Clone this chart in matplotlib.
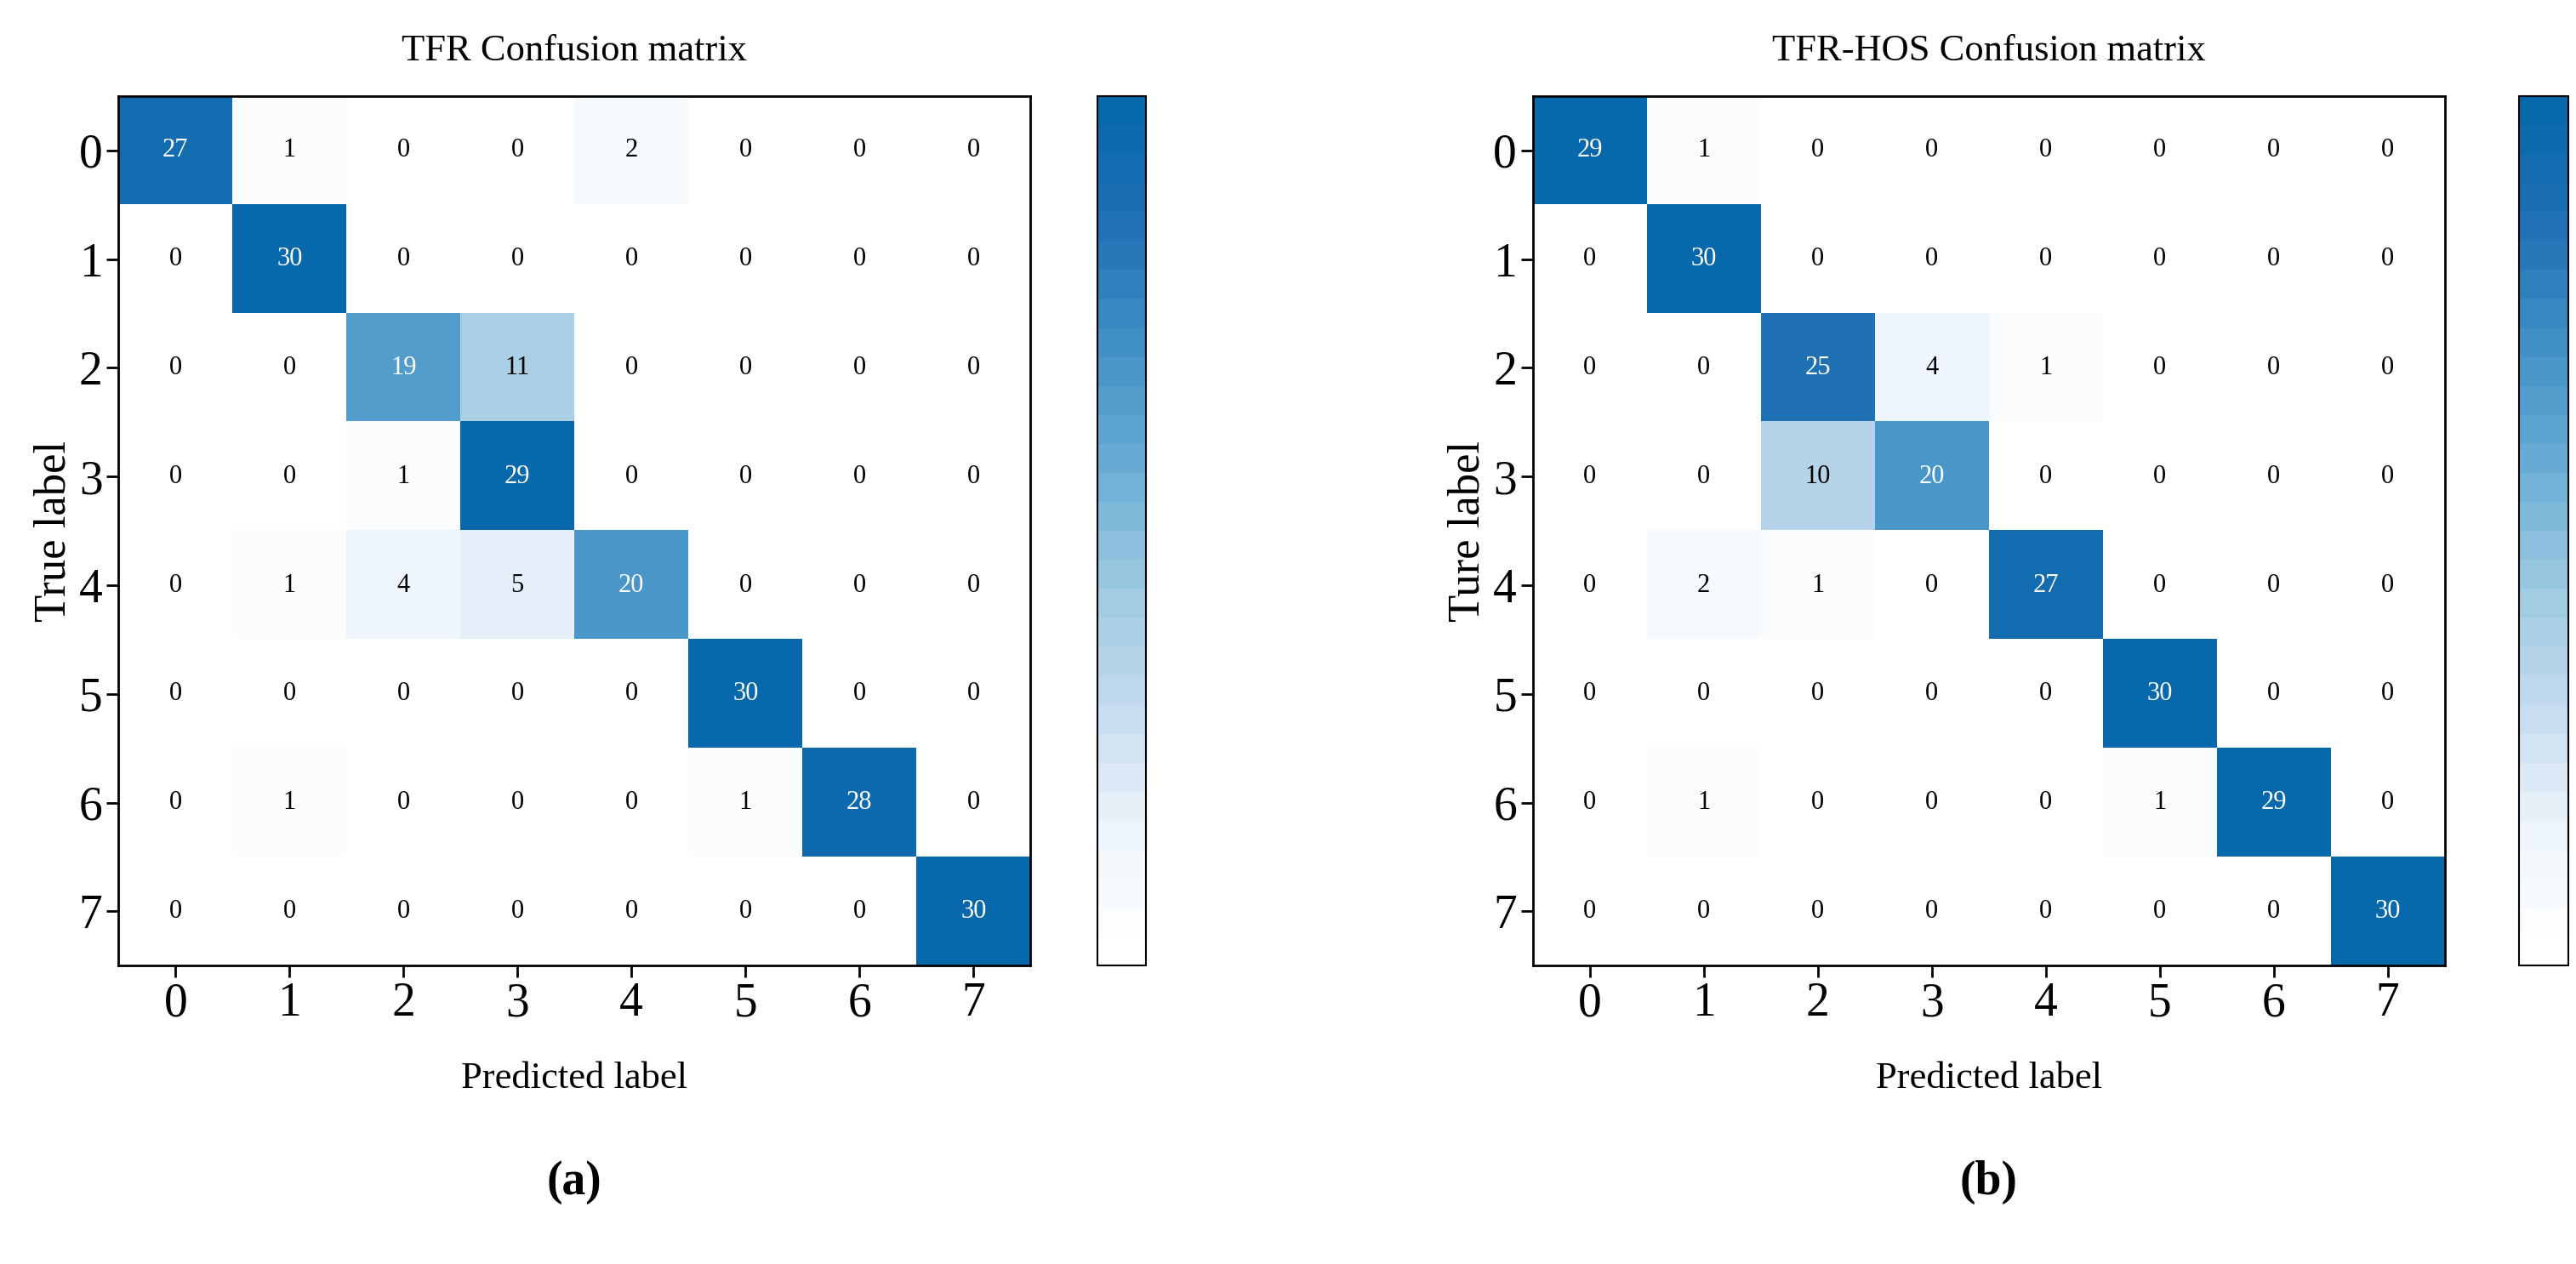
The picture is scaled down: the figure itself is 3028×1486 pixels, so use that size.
import numpy as np
import matplotlib
matplotlib.use("Agg")
import matplotlib.pyplot as plt
from matplotlib.colors import LinearSegmentedColormap

classes = ["0", "1", "2", "3", "4", "5", "6", "7"]
cm_tfr = [
    [27, 1, 0, 0, 2, 0, 0, 0],
    [0, 30, 0, 0, 0, 0, 0, 0],
    [0, 0, 19, 11, 0, 0, 0, 0],
    [0, 0, 1, 29, 0, 0, 0, 0],
    [0, 1, 4, 5, 20, 0, 0, 0],
    [0, 0, 0, 0, 0, 30, 0, 0],
    [0, 1, 0, 0, 0, 1, 28, 0],
    [0, 0, 0, 0, 0, 0, 0, 30],
]
cm_hos = [
    [29, 1, 0, 0, 0, 0, 0, 0],
    [0, 30, 0, 0, 0, 0, 0, 0],
    [0, 0, 25, 4, 1, 0, 0, 0],
    [0, 0, 10, 20, 0, 0, 0, 0],
    [0, 2, 1, 0, 27, 0, 0, 0],
    [0, 0, 0, 0, 0, 30, 0, 0],
    [0, 1, 0, 0, 0, 1, 29, 0],
    [0, 0, 0, 0, 0, 0, 0, 30],
]
titles = ["TFR Confusion matrix", "TFR-HOS Confusion matrix"]
ylabels = ["True label", "Ture label"]
panel_tags = ["(a)", "(b)"]

plt.rcParams["font.family"] = "Liberation Serif"
cmap = LinearSegmentedColormap.from_list(
    "b", ["#ffffff", "#eef5fc", "#c6dbef", "#9ecae1", "#6baed6", "#4292c6", "#2171b5", "#0868ac"], N=30)

fig = plt.figure(figsize=(30.28, 14.86), dpi=100)
axpos = [[0.046, 0.236, 0.354, 0.688], [0.595, 0.236, 0.354, 0.688]]
cbpos = [[0.426, 0.236, 0.019, 0.688], [0.978, 0.236, 0.019, 0.688]]
for k, cm in enumerate([cm_tfr, cm_hos]):
    cm = np.array(cm)
    ax = fig.add_axes(axpos[k])
    im = ax.imshow(cm, cmap=cmap, vmin=0, vmax=30, aspect="auto")
    for i in range(cm.shape[0]):
        for j in range(cm.shape[1]):
            ax.text(j, i, str(cm[i, j]), ha="center", va="center", fontsize=22,
                    color="white" if cm[i, j] > 15 else "black")
    ax.set_xticks(range(len(classes)))
    ax.set_xticklabels(classes, fontsize=40)
    ax.set_yticks(range(len(classes)))
    ax.set_yticklabels(classes, fontsize=40)
    ax.tick_params(length=10, width=2)
    for s in ax.spines.values():
        s.set_linewidth(2)
    ax.set_title(titles[k], fontsize=32, pad=30)
    ax.set_xlabel("Predicted label", fontsize=32, labelpad=30)
    ax.set_ylabel(ylabels[k], fontsize=38, labelpad=4)
    cax = fig.add_axes(cbpos[k])
    cb = fig.colorbar(im, cax=cax)
    cb.set_ticks([])
    cb.outline.set_linewidth(1.5)
    fig.text(axpos[k][0] + axpos[k][2] / 2, 0.055, panel_tags[k], ha="center",
             fontsize=40, fontweight="bold")
fig.savefig("out.png", dpi=100)
